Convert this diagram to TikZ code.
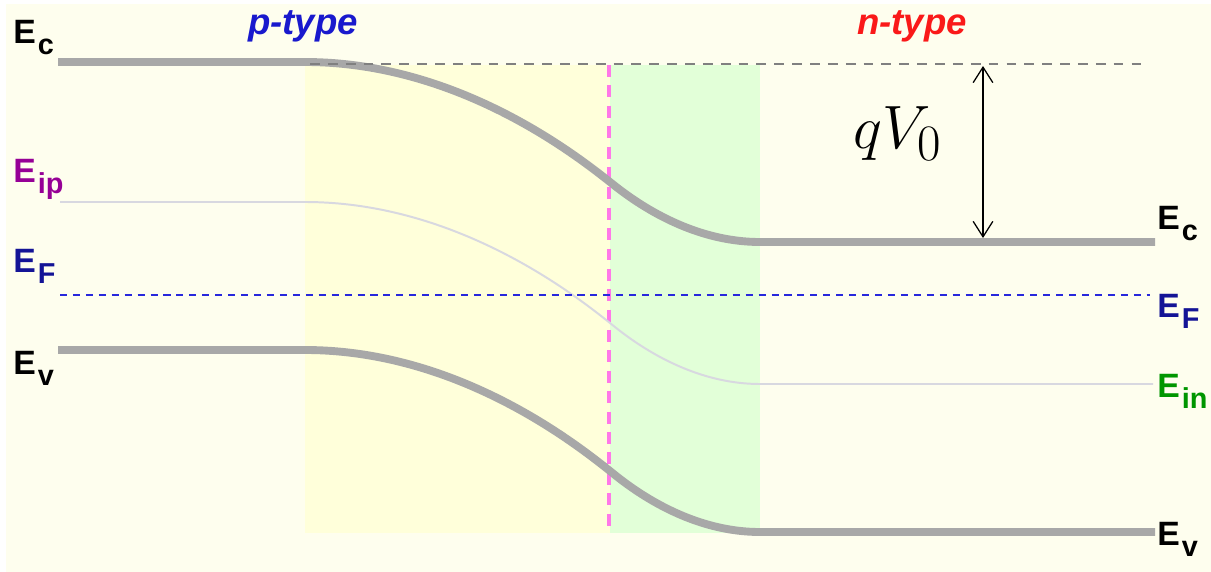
\documentclass[tikz,border=0pt]{standalone}
\usepackage[no-math]{fontspec}
\setmainfont{Liberation Sans}
\usetikzlibrary{arrows.meta}

\definecolor{bgcream}{RGB}{254,254,238}
\definecolor{pyellow}{RGB}{255,255,218}
\definecolor{ngreen}{RGB}{226,255,216}
\definecolor{bandgray}{RGB}{168,168,168}
\definecolor{eigray}{RGB}{216,216,224}
\definecolor{fermiblue}{RGB}{40,40,220}
\definecolor{junctpink}{RGB}{255,120,232}
\definecolor{ptypeblue}{RGB}{25,25,205}
\definecolor{ntypered}{RGB}{250,25,25}
\definecolor{labpurple}{RGB}{150,0,150}
\definecolor{labnavy}{RGB}{20,20,150}
\definecolor{labgreen}{RGB}{0,150,0}

% level label: E with a lowered subscript
\newcommand{\lvl}[1]{E\kern1.5pt\raisebox{-8.5pt}{\fontsize{20.5}{20}\selectfont #1}}

\begin{document}
\begin{tikzpicture}[
    x=0.025cm, y=-0.025cm,
    >=Stealth,
    band/.style={draw=bandgray, line width=5.6pt},
    intrinsic/.style={draw=eigray, line width=1.4pt},
    fermi/.style={draw=fermiblue, line width=1.4pt, dash pattern=on 5pt off 4.2pt},
    vacref/.style={draw=gray, line width=1.8pt, dash pattern=on 7pt off 5.7pt},
    junction/.style={draw=junctpink, line width=2.2pt, dash pattern=on 8.5pt off 6pt},
    lvllabel/.style={anchor=base west, inner sep=0pt,
      font=\bfseries\fontsize{24}{28}\selectfont},
    typelabel/.style={inner sep=0pt,
      font=\bfseries\itshape\fontsize{26}{30}\selectfont},
    gap arrow/.style={{Straight Barb[length=11pt,width=14pt]}-{Straight Barb[length=11pt,width=14pt]},
      line width=0.9pt, black},
  ]

  %% ---- page and regions ----
  \useasboundingbox (0,0) rectangle (1211,572);
  \fill[white] (0,0) rectangle (1211,572);
  \fill[bgcream] (6,4) rectangle (1211,572);
  \fill[pyellow] (305,65) rectangle (610,533);
  \fill[ngreen]  (610,65) rectangle (760,533);

  %% ---- band end points ----
  % x: 60 left end, 305 p edge, 610 junction, 760 n edge, 1155 right end
  \coordinate (ecL) at (58,62);   \coordinate (ecP) at (305,62);
  \coordinate (ecJ) at (610,182); \coordinate (ecN) at (760,242);
  \coordinate (ecR) at (1155,242);

  \coordinate (evL) at (58,350);  \coordinate (evP) at (305,350);
  \coordinate (evJ) at (610,471); \coordinate (evN) at (760,532);
  \coordinate (evR) at (1155,532);

  \coordinate (eiL) at (60,202);  \coordinate (eiP) at (305,202);
  \coordinate (eiJ) at (610,323); \coordinate (eiN) at (760,384);
  \coordinate (eiR) at (1153,384);

  \coordinate (efL) at (60,295);  \coordinate (efR) at (1150,295);
  \coordinate (refL) at (310,64); \coordinate (refR) at (1145,64);
  \coordinate (jTop) at (609,65); \coordinate (jBot) at (609,533);

  %% ---- metallurgical junction ----
  \draw[junction] (jTop) -- (jBot);

  %% ---- bands ----
  \draw[intrinsic] (eiL) -- (eiP) parabola (eiJ) parabola[bend at end] (eiN) -- (eiR);
  \draw[band] (ecL) -- (ecP) parabola (ecJ) parabola[bend at end] (ecN) -- (ecR);
  \draw[band] (evL) -- (evP) parabola (evJ) parabola[bend at end] (evN) -- (evR);
  \draw[fermi] (efL) -- (efR);
  \draw[vacref] (refL) -- (refR);

  %% ---- built-in potential ----
  \coordinate (vTop) at (983,66);
  \coordinate (vBot) at (983,238);
  \draw[gap arrow] (vTop) -- (vBot);
  \node[font=\fontsize{24.88}{30}\selectfont, scale=1.75, inner sep=0pt]
    (qV) at (898,134) {$qV_0$};

  %% ---- side labels ----
  \node[typelabel, ptypeblue] (ptype) at (303,26) {p-type};
  \node[typelabel, ntypered]  (ntype) at (912,26) {n-type};

  \node[lvllabel]            (lEcL) at (13,43)  {\lvl{c}};
  \node[lvllabel, labpurple] (lEip) at (13,182) {\lvl{ip}};
  \node[lvllabel, labnavy]   (lEfL) at (13,272) {\lvl{F}};
  \node[lvllabel]            (lEvL) at (13,374) {\lvl{v}};

  \node[lvllabel]            (lEcR) at (1157,229) {\lvl{c}};
  \node[lvllabel, labnavy]   (lEfR) at (1157,317) {\lvl{F}};
  \node[lvllabel, labgreen]  (lEin) at (1157,397) {\lvl{in}};
  \node[lvllabel]            (lEvR) at (1157,545) {\lvl{v}};

\end{tikzpicture}
\end{document}
